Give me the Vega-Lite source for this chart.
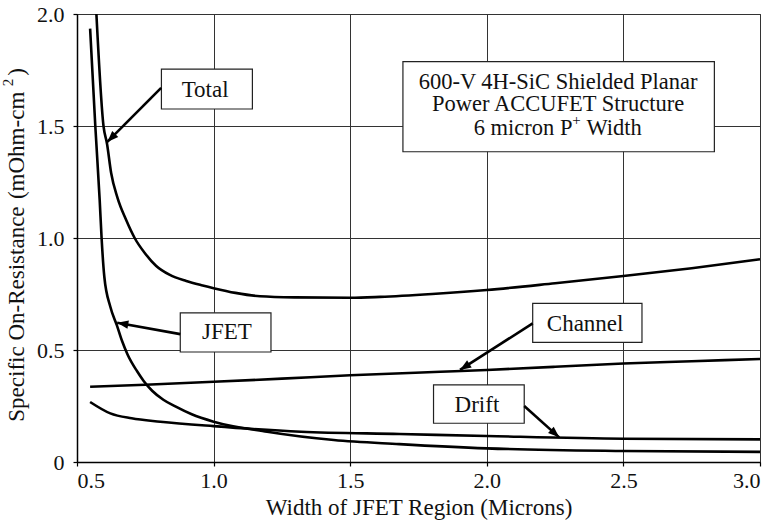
{
  "$schema": "https://vega.github.io/schema/vega-lite/v6.json",
  "autosize": "none",
  "width": 683,
  "height": 448,
  "padding": {"left": 77, "top": 14, "right": 16, "bottom": 62},
  "datasets": {
    "curves": [
      {"series": "Total", "w": 0.571, "r": 2.0},
      {"series": "Total", "w": 0.597, "r": 1.5},
      {"series": "Total", "w": 0.61, "r": 1.42},
      {"series": "Total", "w": 0.625, "r": 1.29},
      {"series": "Total", "w": 0.648, "r": 1.18},
      {"series": "Total", "w": 0.68, "r": 1.08},
      {"series": "Total", "w": 0.711, "r": 1.0},
      {"series": "Total", "w": 0.75, "r": 0.93},
      {"series": "Total", "w": 0.79, "r": 0.875},
      {"series": "Total", "w": 0.84, "r": 0.835},
      {"series": "Total", "w": 0.9, "r": 0.808},
      {"series": "Total", "w": 0.96, "r": 0.788},
      {"series": "Total", "w": 1.0, "r": 0.776},
      {"series": "Total", "w": 1.08, "r": 0.755},
      {"series": "Total", "w": 1.17, "r": 0.74},
      {"series": "Total", "w": 1.3, "r": 0.735},
      {"series": "Total", "w": 1.5, "r": 0.733},
      {"series": "Total", "w": 1.61, "r": 0.737},
      {"series": "Total", "w": 1.8, "r": 0.75},
      {"series": "Total", "w": 2.0, "r": 0.768},
      {"series": "Total", "w": 2.25, "r": 0.798},
      {"series": "Total", "w": 2.5, "r": 0.83},
      {"series": "Total", "w": 2.75, "r": 0.865},
      {"series": "Total", "w": 3.0, "r": 0.905},
      {"series": "JFET", "w": 0.548, "r": 1.935},
      {"series": "JFET", "w": 0.567, "r": 1.5},
      {"series": "JFET", "w": 0.583, "r": 1.17},
      {"series": "JFET", "w": 0.59, "r": 1.0},
      {"series": "JFET", "w": 0.6, "r": 0.827},
      {"series": "JFET", "w": 0.622, "r": 0.693},
      {"series": "JFET", "w": 0.646, "r": 0.61},
      {"series": "JFET", "w": 0.665, "r": 0.54},
      {"series": "JFET", "w": 0.685, "r": 0.48},
      {"series": "JFET", "w": 0.72, "r": 0.405},
      {"series": "JFET", "w": 0.744, "r": 0.362},
      {"series": "JFET", "w": 0.775, "r": 0.318},
      {"series": "JFET", "w": 0.816, "r": 0.278},
      {"series": "JFET", "w": 0.86, "r": 0.248},
      {"series": "JFET", "w": 0.92, "r": 0.213},
      {"series": "JFET", "w": 1.0, "r": 0.18},
      {"series": "JFET", "w": 1.196, "r": 0.135},
      {"series": "JFET", "w": 1.44, "r": 0.098},
      {"series": "JFET", "w": 1.68, "r": 0.08},
      {"series": "JFET", "w": 2.0, "r": 0.061},
      {"series": "JFET", "w": 2.5, "r": 0.049},
      {"series": "JFET", "w": 3.0, "r": 0.045},
      {"series": "Drift", "w": 0.548, "r": 0.268},
      {"series": "Drift", "w": 0.622, "r": 0.217},
      {"series": "Drift", "w": 0.7, "r": 0.195},
      {"series": "Drift", "w": 0.805, "r": 0.18},
      {"series": "Drift", "w": 1.0, "r": 0.16},
      {"series": "Drift", "w": 1.32, "r": 0.135},
      {"series": "Drift", "w": 1.68, "r": 0.125},
      {"series": "Drift", "w": 2.0, "r": 0.116},
      {"series": "Drift", "w": 2.5, "r": 0.104},
      {"series": "Drift", "w": 3.0, "r": 0.101},
      {"series": "Channel", "w": 0.548, "r": 0.336},
      {"series": "Channel", "w": 0.75, "r": 0.345},
      {"series": "Channel", "w": 1.0, "r": 0.358},
      {"series": "Channel", "w": 1.25, "r": 0.372},
      {"series": "Channel", "w": 1.5, "r": 0.387},
      {"series": "Channel", "w": 1.83, "r": 0.403},
      {"series": "Channel", "w": 2.0, "r": 0.411},
      {"series": "Channel", "w": 2.25, "r": 0.425},
      {"series": "Channel", "w": 2.5, "r": 0.44},
      {"series": "Channel", "w": 2.75, "r": 0.45},
      {"series": "Channel", "w": 3.0, "r": 0.46}
    ],
    "boxes": [
      {"name": "Total", "x1": 0.809, "x2": 1.142, "y1": 1.576, "y2": 1.754},
      {"name": "JFET", "x1": 0.878, "x2": 1.21, "y1": 0.491, "y2": 0.666},
      {"name": "Channel", "x1": 2.168, "x2": 2.568, "y1": 0.534, "y2": 0.708},
      {"name": "Drift", "x1": 1.805, "x2": 2.137, "y1": 0.173, "y2": 0.344},
      {"name": "Info", "x1": 1.693, "x2": 2.833, "y1": 1.385, "y2": 1.787}
    ],
    "labels": [
      {"text": "Total", "x": 0.969, "y": 1.631},
      {"text": "JFET", "x": 1.049, "y": 0.548},
      {"text": "Channel", "x": 2.36, "y": 0.585},
      {"text": "Drift", "x": 1.964, "y": 0.222}
    ],
    "infolines": [
      {"text": "600-V 4H-SiC Shielded Planar", "x": 2.261, "y": 1.665},
      {"text": "Power ACCUFET Structure", "x": 2.261, "y": 1.568}
    ],
    "leftpart": [{"text": "6 micron P", "x": 2.3134, "y": 1.46}],
    "rightpart": [{"text": "Width", "x": 2.3646, "y": 1.46}],
    "sups": [{"text": "+", "x": 2.3287, "y": 1.504}],
    "ytitle_a": [{"text": "Specific On-Resistance", "x": 0.307, "y": 0.18}],
    "ytitle_b": [{"text": "(mOhm-cm", "x": 0.307, "y": 1.653}],
    "ytitle_sup": [{"text": "2", "x": 0.266, "y": 1.694}],
    "ytitle_c": [{"text": ")", "x": 0.307, "y": 1.741}],
    "arrows": [
      {"name": "Total", "x1": 0.808, "y1": 1.67, "x2": 0.611, "y2": 1.429, "heading": 225},
      {"name": "JFET", "x1": 0.878, "y1": 0.571, "x2": 0.647, "y2": 0.622, "heading": 280},
      {"name": "Channel", "x1": 2.168, "y1": 0.619, "x2": 1.902, "y2": 0.411, "heading": 237},
      {"name": "Drift", "x1": 2.137, "y1": 0.25, "x2": 2.265, "y2": 0.11, "heading": 132}
    ]
  },
  "layer": [
    {
      "data": {"name": "curves"},
      "mark": {"type": "line", "color": "#000000", "strokeWidth": 2.6, "interpolate": "monotone"},
      "encoding": {
        "x": {
          "field": "w", "type": "quantitative",
          "scale": {"domain": [0.5, 3.0], "nice": false, "zero": false},
          "axis": {
            "title": "Width of JFET Region (Microns)",
            "values": [0.5, 1.0, 1.5, 2.0, 2.5, 3.0],
            "labelExpr": "format(datum.value, '.1f')",
            "labelFont": "Liberation Serif",
            "titleFont": "Liberation Serif",
            "labelFontSize": 22, "titleFontSize": 23, "titleFontWeight": "normal",
            "labelColor": "#111111", "titleColor": "#111111",
            "domainColor": "#000000", "domainWidth": 1.5,
            "tickColor": "#000000", "tickSize": 4, "tickWidth": 1.2,
            "gridColor": "#333333", "gridOpacity": 1, "gridWidth": 1,
            "labelPadding": 4,
            "titlePadding": 5,
            "grid": true
          }
        },
        "y": {
          "field": "r", "type": "quantitative",
          "scale": {"domain": [0, 2.0], "nice": false},
          "axis": {
            "title": null,
            "values": [0, 0.5, 1.0, 1.5, 2.0],
            "labelExpr": "datum.value == 0 ? '0' : format(datum.value, '.1f')",
            "labelFont": "Liberation Serif",
            "labelFontSize": 22,
            "labelColor": "#111111",
            "domainColor": "#000000", "domainWidth": 1.5,
            "tickColor": "#000000", "tickSize": 4, "tickWidth": 1.2,
            "gridColor": "#333333", "gridOpacity": 1, "gridWidth": 1,
            "labelPadding": 9,
            "grid": true
          }
        },
        "detail": {"field": "series", "type": "nominal"}
      }
    },
    {
      "data": {"name": "boxes"},
      "mark": {"type": "rect", "fill": "#ffffff", "stroke": "#222222", "strokeWidth": 1.2},
      "encoding": {
        "x": {"field": "x1", "type": "quantitative"},
        "x2": {"field": "x2"},
        "y": {"field": "y1", "type": "quantitative"},
        "y2": {"field": "y2"}
      }
    },
    {
      "data": {"name": "labels"},
      "mark": {"type": "text", "font": "Liberation Serif", "fontSize": 23, "color": "#111111", "align": "center", "baseline": "alphabetic"},
      "encoding": {
        "x": {"field": "x", "type": "quantitative"},
        "y": {"field": "y", "type": "quantitative"},
        "text": {"field": "text", "type": "nominal"}
      }
    },
    {
      "data": {"name": "infolines"},
      "mark": {"type": "text", "font": "Liberation Serif", "fontSize": 22.5, "color": "#111111", "align": "center", "baseline": "alphabetic"},
      "encoding": {
        "x": {"field": "x", "type": "quantitative"},
        "y": {"field": "y", "type": "quantitative"},
        "text": {"field": "text", "type": "nominal"}
      }
    },
    {
      "data": {"name": "leftpart"},
      "mark": {"type": "text", "font": "Liberation Serif", "fontSize": 22.5, "color": "#111111", "align": "right", "baseline": "alphabetic"},
      "encoding": {
        "x": {"field": "x", "type": "quantitative"},
        "y": {"field": "y", "type": "quantitative"},
        "text": {"field": "text", "type": "nominal"}
      }
    },
    {
      "data": {"name": "rightpart"},
      "mark": {"type": "text", "font": "Liberation Serif", "fontSize": 22.5, "color": "#111111", "align": "left", "baseline": "alphabetic"},
      "encoding": {
        "x": {"field": "x", "type": "quantitative"},
        "y": {"field": "y", "type": "quantitative"},
        "text": {"field": "text", "type": "nominal"}
      }
    },
    {
      "data": {"name": "sups"},
      "mark": {"type": "text", "font": "Liberation Serif", "fontSize": 15, "color": "#111111", "align": "center", "baseline": "alphabetic"},
      "encoding": {
        "x": {"field": "x", "type": "quantitative"},
        "y": {"field": "y", "type": "quantitative"},
        "text": {"field": "text", "type": "nominal"}
      }
    },
    {
      "data": {"name": "ytitle_a"},
      "mark": {"type": "text", "font": "Liberation Serif", "fontSize": 23, "color": "#111111", "angle": 270, "align": "left", "baseline": "alphabetic"},
      "encoding": {
        "x": {"field": "x", "type": "quantitative"},
        "y": {"field": "y", "type": "quantitative"},
        "text": {"field": "text", "type": "nominal"}
      }
    },
    {
      "data": {"name": "ytitle_b"},
      "mark": {"type": "text", "font": "Liberation Serif", "fontSize": 23, "color": "#111111", "angle": 270, "align": "right", "baseline": "alphabetic"},
      "encoding": {
        "x": {"field": "x", "type": "quantitative"},
        "y": {"field": "y", "type": "quantitative"},
        "text": {"field": "text", "type": "nominal"}
      }
    },
    {
      "data": {"name": "ytitle_sup"},
      "mark": {"type": "text", "font": "Liberation Serif", "fontSize": 15, "color": "#111111", "angle": 270, "align": "center", "baseline": "alphabetic"},
      "encoding": {
        "x": {"field": "x", "type": "quantitative"},
        "y": {"field": "y", "type": "quantitative"},
        "text": {"field": "text", "type": "nominal"}
      }
    },
    {
      "data": {"name": "ytitle_c"},
      "mark": {"type": "text", "font": "Liberation Serif", "fontSize": 23, "color": "#111111", "angle": 270, "align": "center", "baseline": "alphabetic"},
      "encoding": {
        "x": {"field": "x", "type": "quantitative"},
        "y": {"field": "y", "type": "quantitative"},
        "text": {"field": "text", "type": "nominal"}
      }
    },
    {
      "data": {"name": "arrows"},
      "mark": {"type": "rule", "color": "#000000", "strokeWidth": 2.6},
      "encoding": {
        "x": {"field": "x1", "type": "quantitative"},
        "y": {"field": "y1", "type": "quantitative"},
        "x2": {"field": "x2"},
        "y2": {"field": "y2"}
      }
    },
    {
      "data": {"name": "arrows"},
      "mark": {"type": "point", "shape": "M0,0L-0.38,1L0.38,1Z", "filled": true, "color": "#000000", "opacity": 1, "size": 500, "strokeWidth": 0},
      "encoding": {
        "x": {"field": "x2", "type": "quantitative"},
        "y": {"field": "y2", "type": "quantitative"},
        "angle": {"field": "heading", "type": "quantitative", "scale": null}
      }
    }
  ],
  "config": {"view": {"stroke": "#333333", "strokeWidth": 1}}
}
